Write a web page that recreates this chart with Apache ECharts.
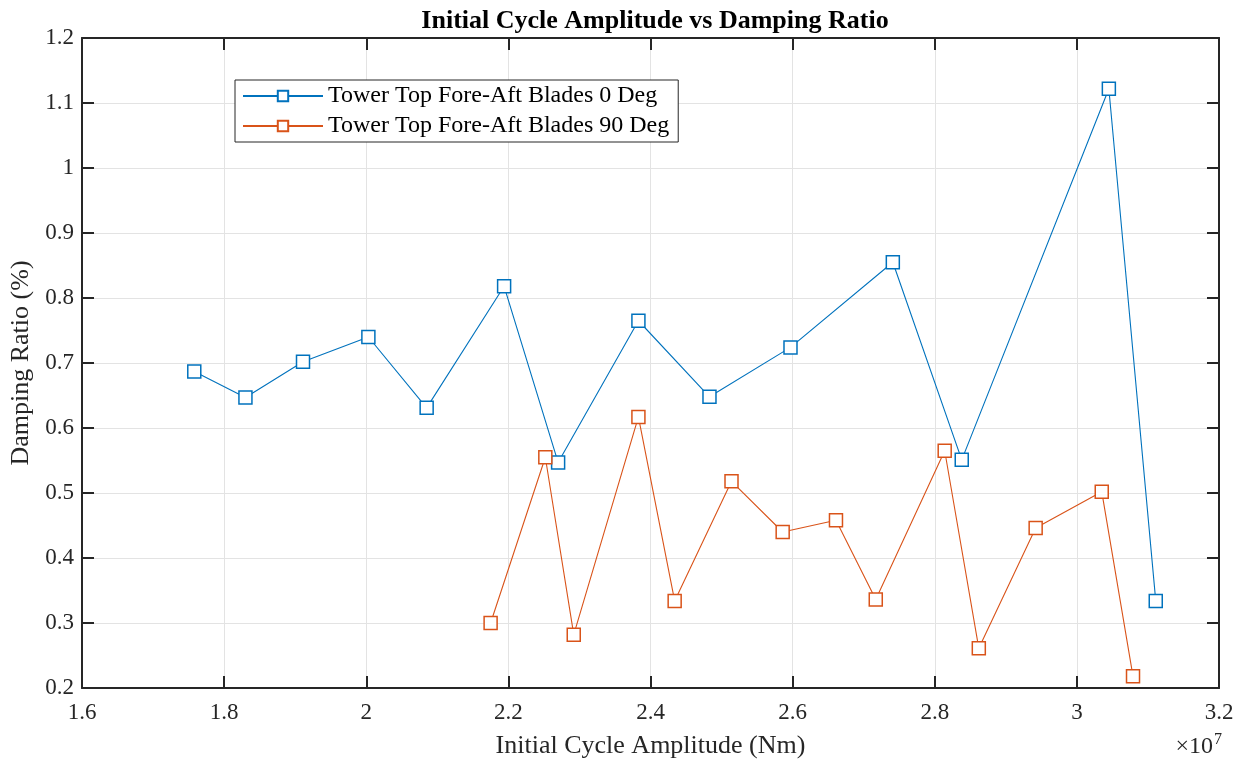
<!DOCTYPE html>
<html>
<head>
<meta charset="utf-8">
<title>Initial Cycle Amplitude vs Damping Ratio</title>
<script src="https://cdn.jsdelivr.net/npm/echarts@6/dist/echarts.min.js"></script>
<style>
  html, body { margin: 0; padding: 0; background: #ffffff; }
  #chart { width: 1244px; height: 759px; }
</style>
</head>
<body>
<div id="chart"></div>
<script>
// Initial cycle amplitude (Nm) and damping ratio (%) for each run
const amp0 = [1.758e7, 1.830e7, 1.911e7, 2.003e7, 2.085e7, 2.194e7, 2.270e7, 2.383e7, 2.483e7, 2.597e7, 2.741e7, 2.838e7, 3.045e7, 3.111e7];
const damp0 = [0.687, 0.647, 0.702, 0.740, 0.631, 0.818, 0.547, 0.765, 0.648, 0.724, 0.855, 0.551, 1.122, 0.334];

const amp90 = [2.175e7, 2.252e7, 2.292e7, 2.383e7, 2.434e7, 2.514e7, 2.586e7, 2.661e7, 2.717e7, 2.814e7, 2.862e7, 2.942e7, 3.035e7, 3.079e7];
const damp90 = [0.300, 0.555, 0.282, 0.617, 0.334, 0.518, 0.440, 0.458, 0.336, 0.565, 0.261, 0.446, 0.502, 0.218];

const seriesNames = ['Tower Top Fore-Aft Blades 0 Deg', 'Tower Top Fore-Aft Blades 90 Deg'];
const xTicks = { min: 1.6e7, max: 3.2e7, step: 0.2e7 };
const yTicks = { min: 0.2, max: 1.2, step: 0.1 };

const FONT = '"Liberation Serif", "Times New Roman", serif';
const INK = '#262626';
const BLUE = '#0072BD';
const ORANGE = '#D95319';

const pairs = (xs, ys) => xs.map((x, i) => [x, ys[i]]);

const chart = echarts.init(document.getElementById('chart'), null, { renderer: 'canvas' });

// Shared look for the four sides of the plot box
const boxAxis = {
  axisLine: { show: true, onZero: false, lineStyle: { color: INK, width: 2 } },
  axisTick: { show: true, inside: true, length: 12, lineStyle: { color: INK, width: 2 } },
};

chart.setOption({
  backgroundColor: '#ffffff',
  animation: false,
  title: {
    text: 'Initial Cycle Amplitude vs Damping Ratio',
    left: 650, textAlign: 'center', top: 3,
    textStyle: { fontFamily: FONT, fontWeight: 'bold', fontSize: 26, color: '#000' }
  },
  grid: { left: 82, right: 25, top: 38, bottom: 71, containLabel: false, outerBoundsMode: 'none' },
  legend: {
    data: seriesNames,
    orient: 'vertical',
    left: 235, top: 80,
    itemWidth: 80, itemHeight: 13, itemGap: 6,
    padding: [4, 9, 4, 7],
    backgroundColor: '#ffffff',
    borderColor: INK, borderWidth: 1,
    textStyle: { fontFamily: FONT, fontSize: 24, color: '#000' }
  },
  xAxis: [
    Object.assign({
      type: 'value', position: 'bottom',
      min: xTicks.min, max: xTicks.max, interval: xTicks.step,
      name: 'Initial Cycle Amplitude (Nm)', nameLocation: 'middle', nameGap: 45,
      nameTextStyle: { fontFamily: FONT, fontSize: 26, color: INK },
      axisLabel: {
        fontFamily: FONT, fontSize: 23, color: INK, margin: 13,
        formatter: v => String(parseFloat((v / 1e7).toFixed(1)))
      },
      splitLine: { show: true, lineStyle: { color: '#e3e3e3', width: 1 } }
    }, boxAxis),
    Object.assign({
      type: 'value', position: 'top',
      min: xTicks.min, max: xTicks.max, interval: xTicks.step,
      axisLabel: { show: false }, splitLine: { show: false }
    }, boxAxis)
  ],
  yAxis: [
    Object.assign({
      type: 'value', position: 'left',
      min: yTicks.min, max: yTicks.max, interval: yTicks.step,
      name: 'Damping Ratio (%)', nameLocation: 'middle', nameGap: 46,
      nameTextStyle: { fontFamily: FONT, fontSize: 26, color: INK },
      axisLabel: {
        fontFamily: FONT, fontSize: 23, color: INK, margin: 8,
        formatter: v => String(parseFloat(v.toFixed(1)))
      },
      splitLine: { show: true, lineStyle: { color: '#e3e3e3', width: 1 } }
    }, boxAxis),
    Object.assign({
      type: 'value', position: 'right',
      min: yTicks.min, max: yTicks.max, interval: yTicks.step,
      axisLabel: { show: false }, splitLine: { show: false }
    }, boxAxis)
  ],
  series: [
    {
      name: seriesNames[0], type: 'line',
      xAxisIndex: 0, yAxisIndex: 0,
      data: pairs(amp0, damp0),
      symbol: 'rect', symbolSize: 13,
      lineStyle: { color: BLUE, width: 1.1 },
      itemStyle: { color: '#ffffff', borderColor: BLUE, borderWidth: 1.5 },
      emphasis: { disabled: true }
    },
    {
      name: seriesNames[1], type: 'line',
      xAxisIndex: 0, yAxisIndex: 0,
      data: pairs(amp90, damp90),
      symbol: 'rect', symbolSize: 13,
      lineStyle: { color: ORANGE, width: 1.1 },
      itemStyle: { color: '#ffffff', borderColor: ORANGE, borderWidth: 1.5 },
      emphasis: { disabled: true }
    }
  ],
  graphic: [
    {
      type: 'text', right: 22, top: 732,
      style: {
        text: '×10{sup|7}',
        font: '24px ' + FONT, fill: INK,
        rich: { sup: { fontFamily: FONT, fontSize: 16, verticalAlign: 'top', padding: [0, 0, 14, 1], fill: INK } }
      }
    }
  ]
});
</script>
</body>
</html>
